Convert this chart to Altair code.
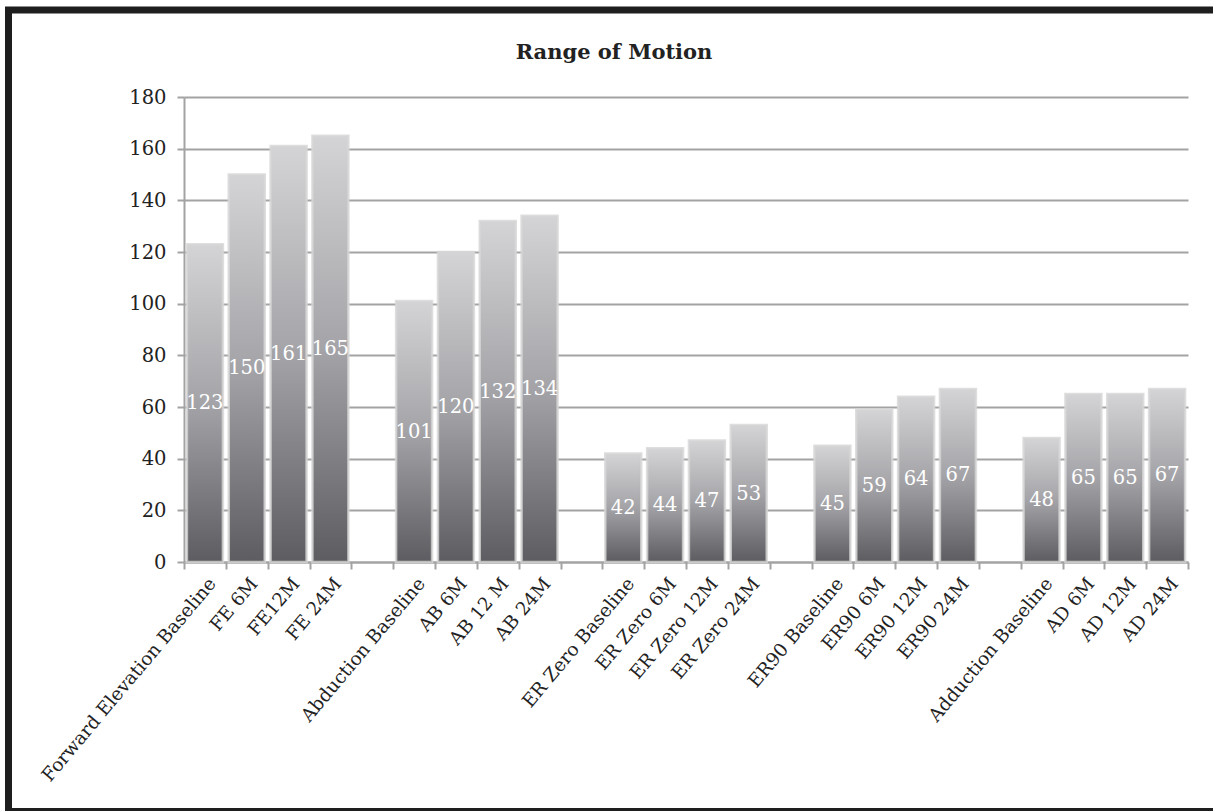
import altair as alt
import pandas as pd

# Measurement labels, in display order (four per movement)
categories = [
    "Forward Elevation Baseline", "FE 6M", "FE12M", "FE 24M",
    "Abduction Baseline", "AB 6M", "AB 12 M", "AB 24M",
    "ER Zero Baseline", "ER Zero 6M", "ER Zero 12M", "ER Zero 24M",
    "ER90 Baseline", "ER90 6M", "ER90 12M", "ER90 24M",
    "Adduction Baseline", "AD 6M", "AD 12M", "AD 24M",
]
# Range of motion in degrees
values = [
    123, 150, 161, 165,
    101, 120, 132, 134,
    42, 44, 47, 53,
    45, 59, 64, 67,
    48, 65, 65, 67,
]
y_ticks = [0, 20, 40, 60, 80, 100, 120, 140, 160, 180]
chart_title = "Range of Motion"

GROUP = 4

# Category order with an empty slot between movement groups
domain = []
for g in range(0, len(categories), GROUP):
    domain += categories[g:g + GROUP]
    if g + GROUP < len(categories):
        domain.append(" " * (g // GROUP + 1))

df = pd.DataFrame({"label": categories, "value": values})

SERIF = "DejaVu Serif"
GRAY = "#a3a3a3"
INK = "#222222"

bar_fill = alt.Gradient(
    gradient="linear",
    stops=[
        alt.GradientStop(color="#d4d4d6", offset=0),
        alt.GradientStop(color="#a4a4a8", offset=0.5),
        alt.GradientStop(color="#5d5d61", offset=1),
    ],
    x1=0, x2=0, y1=0, y2=1,
)

x_enc = alt.X(
    "label:N",
    sort=domain,
    scale=alt.Scale(domain=domain, paddingInner=0, paddingOuter=0),
    axis=alt.Axis(
        title=None,
        labelAngle=-50,
        labelAlign="right",
        labelBaseline="top",
        labelPadding=5,
        labelLimit=0,
        tickBand="extent",
        grid=False,
        labelOverlap=False,
        labelFontSize=18.5,
    ),
)
y_enc = alt.Y(
    "value:Q",
    scale=alt.Scale(domain=[0, 180], nice=False),
    axis=alt.Axis(title=None, values=y_ticks, grid=True, labelPadding=11,
                  labelFontSize=19.5),
)

base = alt.Chart(df)

bars = base.mark_bar(
    fill=bar_fill,
    stroke="#d6d6d6",
    strokeWidth=2.5,
    strokeOpacity=0.8,
    width=alt.RelativeBandSize(0.86),
).encode(x=x_enc, y=y_enc)

value_text = base.transform_calculate(mid="datum.value / 2").mark_text(
    color="white",
    font=SERIF,
    fontSize=19.5,
    align="center",
    baseline="middle",
).encode(
    x=alt.X("label:N", sort=domain),
    y=alt.Y("mid:Q"),
    text=alt.Text("value:Q"),
)

# Chart heading, centred over the whole figure
heading = alt.Chart(pd.DataFrame({"t": [chart_title]})).mark_text(
    font=SERIF,
    fontSize=21,
    fontWeight="bold",
    color=INK,
    align="center",
    baseline="middle",
).encode(x=alt.value(430), y=alt.value(-44), text="t:N")

# Heavy black frame around the figure
frame = alt.Chart(pd.DataFrame({"f": [0]})).mark_rect(
    fillOpacity=0, stroke="#1e1e1e", strokeWidth=7
).encode(
    x=alt.value(-175.5), x2=alt.value(1060),
    y=alt.value(-87), y2=alt.value(714.5),
)

chart = (
    alt.layer(bars, value_text, heading, frame)
    .properties(
        width=1004,
        height=465,
        padding={"left": 184, "top": 97, "right": 25, "bottom": 249},
        autosize=alt.AutoSizeParams(type="none"),
        background="white",
    )
    .configure_axis(
        domainColor=GRAY,
        domainWidth=2,
        gridColor=GRAY,
        gridWidth=2,
        tickColor=GRAY,
        tickWidth=2,
        tickSize=7,
        labelFont=SERIF,
        labelColor=INK,
    )
    .configure_view(strokeWidth=0)
)

chart.save("out.html", embed_options={"renderer": "svg", "actions": False})
